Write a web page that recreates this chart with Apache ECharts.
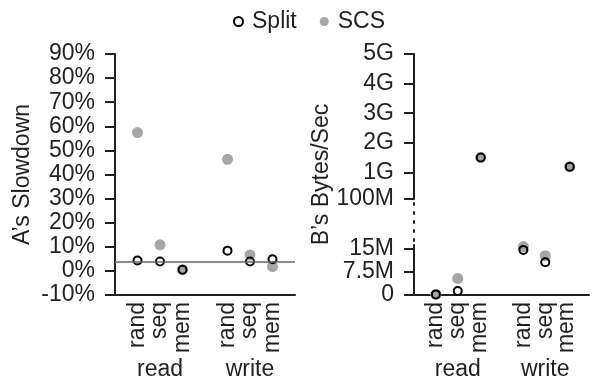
<!DOCTYPE html>
<html>
<head>
<meta charset="utf-8">
<script src="https://cdn.jsdelivr.net/npm/echarts@6/dist/echarts.min.js"></script>
<style>html,body{margin:0;padding:0;background:#fff}#c{width:592px;height:383px}</style>
</head>
<body>
<div id="c"></div>
<script>
// ---- data ----
const groups = ['read', 'write'];
const kinds = ['rand', 'seq', 'mem'];
// order: read rand, read seq, read mem, write rand, write seq, write mem
const leftSplit = [4.3, 3.9, 0.5, 8.4, 3.9, 4.8];
const leftSCS = [57.4, 10.8, 0.5, 46.3, 6.6, 1.8];
const leftRefLine = 3.9;
const rightSplit = [0.2e6, 1.3e6, 1.5e9, 14.7e6, 10.7e6, 1.19e9];
const rightSCS = [0.2e6, 5.4e6, 1.5e9, 15.8e6, 12.8e6, 1.19e9];
const upperTickValues = [1e8, 1e9, 2e9, 3e9, 4e9, 5e9];
const upperTickLabels = ['100M', '1G', '2G', '3G', '4G', '5G'];
const lowerTickValues = [0, 7.5e6, 15e6];
const lowerTickLabels = ['0', '7.5M', '15M'];
const breakLow = 16.3e6, breakHigh = 1e8;

// ---- helpers ----
const FONT = 'Liberation Sans, Arial, sans-serif';
const INK = '#231f20';
const TICK = INK;
const GRAY = '#a6a6a6';
function pos(i) { const g = Math.floor(i / kinds.length), k = i % kinds.length; return g * (kinds.length + 1) + k + 1; }
function catLabel(v) { if (v % 4 === 0) return ''; const k = v % 4 - 1; return kinds[k] || ''; }
function groupLabel(v) { return v % 4 === 2 ? (groups[(v - 2) / 4] || '') : ''; }
function pts(arr, filter) { const out = []; arr.forEach((v, i) => { if (!filter || filter(v)) out.push([pos(i), v]); }); return out; }

const splitStyle = { color: 'rgba(255,255,255,0)', borderColor: '#000', borderWidth: 2, opacity: 1 };
const scsStyle = { color: GRAY, opacity: 1 };

function catAxis(grid) {
  return { type: 'value', gridIndex: grid, min: 0, max: 8, interval: 1, position: 'bottom',
    splitLine: { show: false }, axisTick: { show: false },
    axisLine: { show: true, onZero: false, lineStyle: { color: INK, width: 2 } },
    axisLabel: { show: true, rotate: 90, margin: 7, fontSize: 23, fontFamily: FONT, color: INK, formatter: catLabel, showMinLabel: true, showMaxLabel: true } };
}
function groupAxis(grid) {
  return { type: 'value', gridIndex: grid, min: 0, max: 8, interval: 1, position: 'bottom',
    splitLine: { show: false }, axisTick: { show: false }, axisLine: { show: false },
    axisLabel: { show: true, margin: 63, fontSize: 23, fontFamily: FONT, color: INK, formatter: groupLabel } };
}
function hiddenX(grid) { return { type: 'value', gridIndex: grid, min: 0, max: 8, show: false }; }

const option = {
  animation: false,
  backgroundColor: '#fff',
  textStyle: { fontFamily: FONT },
  legend: { data: ['Split', 'SCS'], left: 228, top: 5, itemWidth: 9, itemHeight: 9, itemGap: 23,
    textStyle: { fontSize: 23, fontFamily: FONT, color: INK, padding: [0, 0, 0, 4] } },
  grid: [
    { left: 115, top: 54, right: 297, bottom: 88 },
    { left: 414, top: 54, right: 0, bottom: 184 },
    { left: 414, top: 245, right: 0, bottom: 88 },
    { left: 414, top: 54, right: 0, bottom: 88 }
  ],
  xAxis: [catAxis(0), groupAxis(0), hiddenX(1), catAxis(2), groupAxis(2), hiddenX(3)],
  yAxis: [
    { type: 'value', gridIndex: 0, min: -10, max: 90, interval: 10,
      name: 'A\u2019s Slowdown', nameLocation: 'middle', nameGap: 81,
      nameTextStyle: { fontSize: 23, fontFamily: FONT, color: INK },
      splitLine: { show: false },
      axisLine: { show: true, onZero: false, lineStyle: { color: INK, width: 2 } },
      axisTick: { show: true, length: 10, lineStyle: { color: TICK, width: 2 } },
      axisLabel: { margin: 20, fontSize: 23, fontFamily: FONT, color: INK, formatter: '{value}%' } },
    { type: 'value', gridIndex: 1, min: breakHigh, max: 5e9,
      splitLine: { show: false },
      axisLine: { show: true, onZero: false, lineStyle: { color: INK, width: 2 } },
      axisTick: { show: true, length: 10, customValues: upperTickValues, lineStyle: { color: TICK, width: 2 } },
      axisLabel: { margin: 20, fontSize: 23, fontFamily: FONT, color: INK, customValues: upperTickValues,
        formatter: v => upperTickLabels[upperTickValues.indexOf(v)] } },
    { type: 'value', gridIndex: 2, min: 0, max: breakLow,
      splitLine: { show: false },
      axisLine: { show: true, onZero: false, lineStyle: { color: INK, width: 2 } },
      axisTick: { show: true, length: 10, customValues: lowerTickValues, lineStyle: { color: TICK, width: 2 } },
      axisLabel: { margin: 20, fontSize: 23, fontFamily: FONT, color: INK, customValues: lowerTickValues,
        formatter: v => lowerTickLabels[lowerTickValues.indexOf(v)] } },
    { type: 'value', gridIndex: 3, min: 0, max: 1,
      name: 'B\u2019s Bytes/Sec', nameLocation: 'middle', nameGap: 81,
      nameTextStyle: { fontSize: 23, fontFamily: FONT, color: INK },
      splitLine: { show: false }, axisTick: { show: false }, axisLabel: { show: false },
      axisLine: { show: true, onZero: false, lineStyle: { color: INK, width: 2, type: [2, 7] } } }
  ],
  series: [
    { name: 'SCS', type: 'scatter', xAxisIndex: 0, yAxisIndex: 0, symbolSize: 11, itemStyle: scsStyle, data: pts(leftSCS), clip: false, z: 2 },
    { name: 'Split', type: 'scatter', xAxisIndex: 0, yAxisIndex: 0, symbolSize: 8, itemStyle: splitStyle, data: pts(leftSplit), clip: false, z: 3,
      markLine: { silent: true, symbol: 'none', label: { show: false }, lineStyle: { color: '#666', width: 1.5, type: 'solid' },
        data: [{ yAxis: leftRefLine }] } },
    { name: 'SCS', type: 'scatter', xAxisIndex: 2, yAxisIndex: 1, symbolSize: 11, itemStyle: scsStyle, data: pts(rightSCS, v => v >= breakHigh), clip: false, z: 2 },
    { name: 'SCS', type: 'scatter', xAxisIndex: 3, yAxisIndex: 2, symbolSize: 11, itemStyle: scsStyle, data: pts(rightSCS, v => v < breakHigh), clip: false, z: 2 },
    { name: 'Split', type: 'scatter', xAxisIndex: 2, yAxisIndex: 1, symbolSize: 8, itemStyle: splitStyle, data: pts(rightSplit, v => v >= breakHigh), clip: false, z: 3 },
    { name: 'Split', type: 'scatter', xAxisIndex: 3, yAxisIndex: 2, symbolSize: 8, itemStyle: splitStyle, data: pts(rightSplit, v => v < breakHigh), clip: false, z: 3 }
  ]
};
const chart = echarts.init(document.getElementById('c'), null, { renderer: 'canvas' });
chart.setOption(option);
</script>
</body>
</html>
